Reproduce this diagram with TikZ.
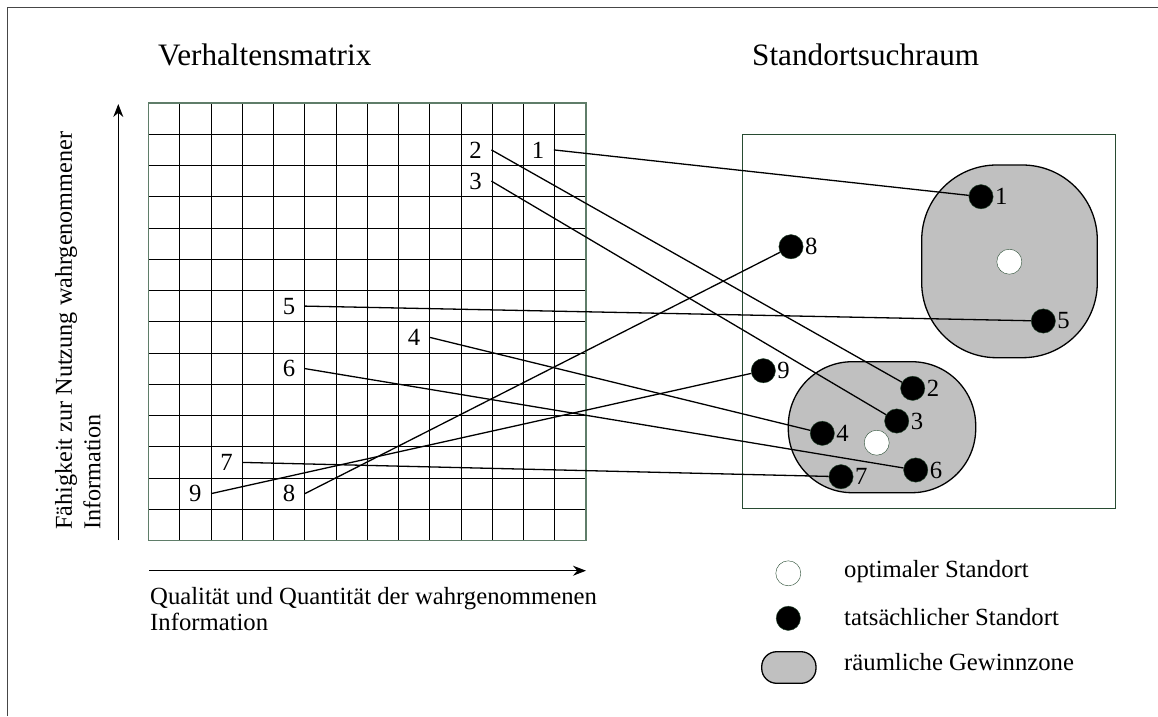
\documentclass[tikz,border=0pt]{standalone}
\usepackage{fontspec}
\setmainfont{Liberation Serif}
\usepackage{tikz}
\usetikzlibrary{arrows.meta, positioning}
\definecolor{boxgreen}{RGB}{40,75,50}
\definecolor{gridgreen}{RGB}{95,125,105}
\definecolor{zonegray}{RGB}{192,192,192}
\definecolor{framegray}{RGB}{70,70,70}
\newcommand{\txtbody}{\fontsize{24.7}{28}\selectfont}
\newcommand{\txttitle}{\fontsize{31.2}{36}\selectfont}

\begin{document}
\begin{tikzpicture}[
                x=1pt, y=-1pt,
                gridline/.style={draw=black, line width=1pt},
                numlab/.style={font=\txtbody, minimum size=31.25pt, inner sep=0pt},
                dotlab/.style={font=\txtbody, inner sep=1.5pt},
                dot/.style={draw=boxgreen, fill=black, circle, inner sep=0pt, minimum size=24.3pt},
                optimum/.style={draw=boxgreen, fill=white, circle, inner sep=0pt, minimum size=25pt},
                zone/.style={draw=black, fill=zonegray, line width=1.3pt, rectangle, inner sep=0pt},
                link/.style={draw=black, line width=1.3pt},
                >=Stealth
            ]

                \useasboundingbox (0,0) rectangle (1158,716);

                % frame
                \draw[framegray, line width=1.6pt] (7.3,716) -- (7.3,7.3) -- (1158,7.3);

                % titles
                \node[font=\txttitle, anchor=base west, inner sep=0pt] (title_matrix) at (158,65.7) {Verhaltensmatrix};
                \node[font=\txttitle, anchor=base west, inner sep=0pt] (title_space) at (752,65.7) {Standortsuchraum};

                % behaviour matrix
                \foreach \i in {1,...,13} {
                    \draw[gridline] ({148.5+\i*31.25},103) -- ({148.5+\i*31.25},540.5);
                    \draw[gridline] (148.5,{103+\i*31.25}) -- (586,{103+\i*31.25});
                }
                \draw[gridgreen, line width=1.4pt] (148.5,103) rectangle (586,540.5);

                % axes
                \coordinate (yaxis_start) at (118.3,540);
                \coordinate (yaxis_end)   at (118.3,104);
                \coordinate (xaxis_start) at (149.3,570.7);
                \coordinate (xaxis_end)   at (586,570.7);
                \draw[-{Stealth[length=13pt, width=10pt]}, line width=1pt] (yaxis_start) -- (yaxis_end);
                \draw[-{Stealth[length=13pt, width=10pt]}, line width=1pt] (xaxis_start) -- (xaxis_end);

                \node[font=\fontsize{24.2}{28.5}\selectfont, rotate=90, anchor=north west, align=left, inner sep=0pt]
                    (ylabel) at (55,530) {Fähigkeit zur Nutzung wahrgenommener\\Information};
                \node[font=\fontsize{24.7}{26.5}\selectfont, anchor=north west, align=left, inner sep=0pt]
                    (xlabel) at (150,587) {Qualität und Quantität der wahrgenommenen\\Information};

                % entries in the matrix
                \node[numlab] (lab_1) at (538.1,149.9) {1};
                \node[numlab] (lab_2) at (475.6,149.9) {2};
                \node[numlab] (lab_3) at (475.6,181.1) {3};
                \node[numlab] (lab_4) at (414.1,337.4) {4};
                \node[numlab] (lab_5) at (289.1,306.1) {5};
                \node[numlab] (lab_6) at (289.1,368.6) {6};
                \node[numlab] (lab_7) at (226.6,462.4) {7};
                \node[numlab] (lab_8) at (289.1,493.6) {8};
                \node[numlab] (lab_9) at (195.3,493.6) {9};

                % search space
                \node[draw=boxgreen, line width=1pt, rectangle, inner sep=0pt,
                      minimum width=372.7pt, minimum height=374pt] (space) at (928.65,321.3) {};
                \node[zone, rounded corners=75pt, minimum width=175.6pt, minimum height=192.7pt]
                    (zone_a) at (1009.5,261.35) {};
                \node[zone, rounded corners=64pt, minimum width=187.4pt, minimum height=131pt]
                    (zone_b) at (882,427.2) {};

                \node[optimum] (opt_a) at (1009.3,261.7) {};
                \node[optimum] (opt_b) at (876.7,442.7) {};

                \node[dot] (dot_1) at (981,196.7) {};
                \node[dot] (dot_2) at (912.7,388.3) {};
                \node[dot] (dot_3) at (896.7,421) {};
                \node[dot] (dot_4) at (822.3,433.3) {};
                \node[dot] (dot_5) at (1043.3,321) {};
                \node[dot] (dot_6) at (915.7,470) {};
                \node[dot] (dot_7) at (841,476.7) {};
                \node[dot] (dot_8) at (791,246.7) {};
                \node[dot] (dot_9) at (763.3,370.7) {};

                \node[dotlab] (dotlab_1) [right = 0pt of dot_1] {1};
                \node[dotlab] (dotlab_2) [right = 0pt of dot_2] {2};
                \node[dotlab] (dotlab_3) [right = 0pt of dot_3] {3};
                \node[dotlab] (dotlab_4) [right = 0pt of dot_4] {4};
                \node[dotlab] (dotlab_5) [right = 0pt of dot_5] {5};
                \node[dotlab] (dotlab_6) [right = 0pt of dot_6] {6};
                \node[dotlab] (dotlab_7) [right = 0pt of dot_7] {7};
                \node[dotlab] (dotlab_8) [right = 0pt of dot_8] {8};
                \node[dotlab] (dotlab_9) [right = 0pt of dot_9] {9};

                \draw[link] (lab_1.east) -- (dot_1);
                \draw[link] (lab_2.east) -- (dot_2);
                \draw[link] (lab_3.east) -- (dot_3);
                \draw[link] (lab_4.east) -- (dot_4);
                \draw[link] (lab_5.east) -- (dot_5);
                \draw[link] (lab_6.east) -- (dot_6);
                \draw[link] (lab_7.east) -- (dot_7);
                \draw[link] (lab_8.east) -- (dot_8);
                \draw[link] (lab_9.east) -- (dot_9);

                % legend
                \node[optimum] (key_opt) at (788.3,573.3) {};
                \node[dot]     (key_dot) at (788.3,618.3) {};
                \node[zone, rounded corners=15pt, minimum width=54.3pt, minimum height=31.6pt]
                    (key_zone) at (788.85,667.5) {};
                \node[font=\txtbody, anchor=base west, inner sep=0pt] (key_opt_txt)  at (844,577.5) {optimaler Standort};
                \node[font=\txtbody, anchor=base west, inner sep=0pt] (key_dot_txt)  at (844,625) {tatsächlicher Standort};
                \node[font=\txtbody, anchor=base west, inner sep=0pt] (key_zone_txt) at (844,670.7) {räumliche Gewinnzone};

            \end{tikzpicture}
\end{document}
